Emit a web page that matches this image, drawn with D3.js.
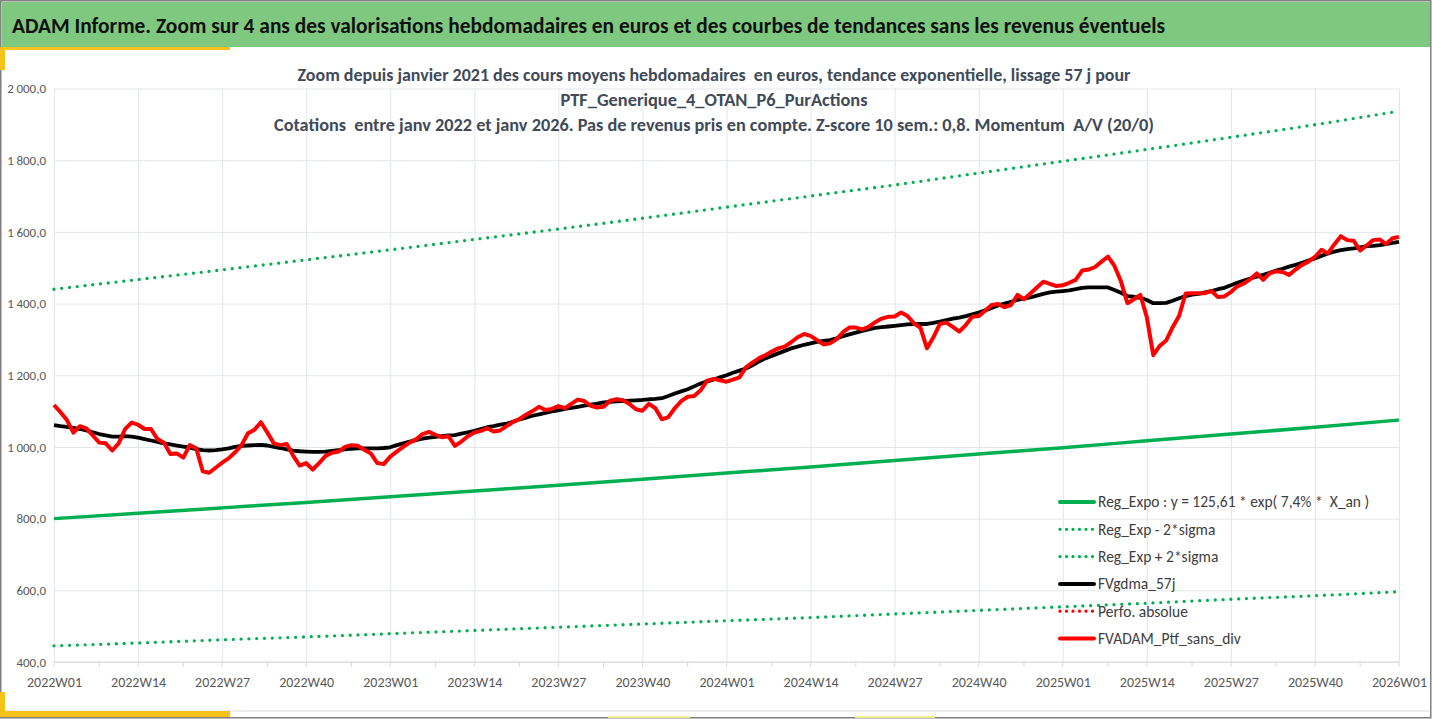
<!DOCTYPE html>
<html>
<head>
<meta charset="utf-8">
<script src="https://cdn.jsdelivr.net/npm/d3@7.9.0/dist/d3.min.js"></script>
<style>
  body { margin: 0; background: #fff; }
  svg { display: block; }
  text { font-family: Calibri, "Liberation Sans Narrow", "Noto Sans", sans-serif; white-space: pre; }
</style>
</head>
<body>
<div id="chart"></div>
<script>
// Data
const years = [2022, 2023, 2024, 2025];
const tickLabels = ['2022W01', '2022W14', '2022W27', '2022W40', '2023W01', '2023W14', '2023W27', '2023W40',
  '2024W01', '2024W14', '2024W27', '2024W40', '2025W01', '2025W14', '2025W27', '2025W40', '2026W01'];

// FVADAM_Ptf_sans_div (weekly, 2022W01 .. 2026W01)
const fvadam = [
  1117, 1097, 1075, 1040, 1058, 1052, 1032, 1012, 1010, 990, 1010, 1050, 1068, 1062, 1050, 1050,
  1022, 1012, 980, 982, 970, 1005, 996, 932, 928, 942, 956, 968, 985, 1005, 1038, 1048,
  1069, 1040, 1010, 1005, 1008, 975, 948, 955, 937, 955, 975, 984, 987, 1000, 1005, 1003,
  992, 982, 955, 952, 973, 987, 1000, 1012, 1021, 1036, 1042, 1034, 1027, 1030, 1003, 1015,
  1030, 1040, 1045, 1052, 1043, 1046, 1058, 1070, 1078, 1090, 1100, 1112, 1103, 1106, 1114, 1108,
  1120, 1132, 1128, 1115, 1110, 1112, 1129, 1133, 1130, 1120, 1105, 1101, 1120, 1108, 1077, 1083,
  1108, 1128, 1140, 1142, 1158, 1185, 1190, 1186, 1182, 1188, 1194, 1222, 1235, 1247, 1256, 1266,
  1275, 1280, 1292, 1306, 1315, 1310, 1298, 1286, 1289, 1300, 1320, 1333, 1333, 1328, 1335, 1348,
  1358, 1363, 1364, 1375, 1365, 1345, 1332, 1275, 1306, 1343, 1347, 1335, 1322, 1340, 1363, 1365,
  1380, 1396, 1399, 1390, 1396, 1424, 1412, 1428, 1445, 1461, 1455, 1449, 1451, 1458, 1466, 1492,
  1495, 1502, 1517, 1531, 1505, 1462, 1401, 1412, 1424, 1362, 1256, 1282, 1297, 1334, 1366, 1428,
  1429, 1429, 1429, 1435, 1418, 1420, 1432, 1448, 1456, 1468, 1484, 1466, 1484, 1490, 1488, 1480,
  1495, 1508, 1517, 1530, 1550, 1540, 1565, 1588, 1577, 1575, 1548, 1562, 1577, 1579, 1566, 1582,
  1586
];

// FVgdma_57j (weekly)
const fvgdma = [
  1061, 1058, 1056, 1053, 1050, 1046, 1041, 1036, 1032, 1029, 1029, 1030, 1029, 1026, 1022, 1018,
  1014, 1010, 1007, 1004, 1001, 998, 994, 991, 990, 991, 993, 996, 1000, 1003, 1004, 1005,
  1006, 1004, 1000, 997, 993, 990, 988, 987, 986, 986, 987, 989, 991, 993, 995, 996,
  996, 996, 996, 997, 999, 1005, 1010, 1015, 1019, 1023, 1026, 1028, 1030, 1032, 1033, 1037,
  1041, 1045, 1050, 1055, 1058, 1062, 1065, 1070, 1077, 1082, 1087, 1091, 1095, 1099, 1102, 1106,
  1109, 1112, 1115, 1118, 1121, 1124, 1126, 1127, 1128, 1129, 1130, 1131, 1133, 1134, 1136, 1142,
  1149, 1155, 1161, 1169, 1177, 1183, 1188, 1194, 1200, 1207, 1213, 1219, 1228, 1238, 1247, 1254,
  1261, 1268, 1275, 1280, 1285, 1289, 1293, 1296, 1298, 1303, 1309, 1314, 1319, 1324, 1328, 1332,
  1334, 1336, 1338, 1340, 1342, 1343, 1343, 1343, 1346, 1350, 1354, 1358, 1361, 1365, 1370, 1375,
  1381, 1388, 1395, 1400, 1405, 1410, 1414, 1417, 1422, 1427, 1431, 1433, 1435, 1437, 1440, 1444,
  1445, 1445, 1445, 1445, 1438, 1430, 1421, 1419, 1416, 1410, 1401, 1401, 1402, 1408, 1415, 1421,
  1425, 1427, 1431, 1435, 1440, 1444, 1451, 1458, 1464, 1470, 1475, 1480, 1486, 1492, 1497, 1503,
  1508, 1514, 1520, 1526, 1533, 1540, 1545, 1549, 1552, 1554, 1557, 1560, 1561, 1563, 1566, 1569,
  1572
];

// trend curves, read at each tick label
const regExpo = [800, 815, 830, 845, 861, 877, 893, 910, 927, 944, 962, 980, 998, 1017, 1036, 1055, 1075];
const regMinus = [445, 453, 462, 470, 479, 488, 497, 506, 515, 524, 534, 544, 554, 564, 575, 585, 596];
const regPlus = [1440, 1467, 1494, 1522, 1550, 1579, 1608, 1638, 1669, 1700, 1731, 1764, 1797, 1830, 1864, 1899, 1937];

const legendItems = [
  { label: 'Reg_Expo : y = 125,61 * exp( 7,4% *  X_an )', color: '#00b050', dotted: false },
  { label: 'Reg_Exp - 2*sigma', color: '#00b050', dotted: true },
  { label: 'Reg_Exp + 2*sigma', color: '#00b050', dotted: true },
  { label: 'FVgdma_57j', color: '#000000', dotted: false },
  { label: 'Perfo. absolue', color: '#ff0000', dotted: true },
  { label: 'FVADAM_Ptf_sans_div', color: '#ff0000', dotted: false }
];

const W = 1432, H = 719;
const plot = { left: 54, right: 1399, top: 88.5, bottom: 662 };

const weeks = years.flatMap(yr => d3.range(1, 53).map(w => `${yr}W${String(w).padStart(2, '0')}`)).concat(['2026W01']);

const svg = d3.select('#chart').append('svg').attr('width', W).attr('height', H);

// frame and decorations
svg.append('rect').attr('x', 0.75).attr('y', 0.75).attr('width', W - 2).attr('height', H - 2)
  .attr('fill', '#fff').attr('stroke', '#7f7f7f').attr('stroke-width', 1.5);
svg.append('rect').attr('x', 2).attr('y', 2).attr('width', 1428).attr('height', 45).attr('fill', '#7ec87f');
svg.append('line').attr('x1', 2).attr('x2', 1429).attr('y1', 711).attr('y2', 711).attr('stroke', '#dcdcdc');
svg.append('rect').attr('x', 0).attr('y', 47).attr('width', 230).attr('height', 3).attr('fill', '#f5c21b');
svg.append('rect').attr('x', 0).attr('y', 47).attr('width', 5).attr('height', 23).attr('fill', '#f5c21b');
svg.append('rect').attr('x', 0).attr('y', 711).attr('width', 230).attr('height', 6).attr('fill', '#f5c21b');
svg.append('rect').attr('x', 0).attr('y', 692).attr('width', 5).attr('height', 25).attr('fill', '#f5c21b');
svg.append('rect').attr('x', 608).attr('y', 716).attr('width', 82).attr('height', 2).attr('fill', '#f3ec8a');
svg.append('rect').attr('x', 855).attr('y', 716).attr('width', 80).attr('height', 2).attr('fill', '#f3ec8a');

svg.append('text').attr('x', 12).attr('y', 33)
  .attr('font-size', 23).attr('font-weight', 'bold').attr('fill', '#111')
  .attr('textLength', 1153).attr('lengthAdjust', 'spacingAndGlyphs')
  .text('ADAM Informe. Zoom sur 4 ans des valorisations hebdomadaires en euros et des courbes de tendances sans les revenus éventuels');

// scales
const x = d3.scalePoint().domain(weeks).range([plot.left, plot.right]);
const y = d3.scaleLinear().domain([400, 2000]).range([plot.bottom, plot.top]);
const fr = d3.formatLocale({ decimal: ',', thousands: '\u2009', grouping: [3], currency: ['', ' €'] });
const fmt = fr.format(',.1f');

// gridlines + axes
const gy = svg.append('g').attr('transform', `translate(${plot.left},0)`)
  .call(d3.axisLeft(y).tickValues(d3.range(400, 2001, 200)).tickSize(-(plot.right - plot.left)).tickPadding(8).tickFormat(fmt));
gy.select('.domain').remove();
gy.selectAll('line').attr('stroke', '#e2e6eb');
gy.selectAll('text').attr('fill', '#595959').attr('font-size', 13);

const gx = svg.append('g').attr('transform', `translate(0,${plot.bottom})`)
  .call(d3.axisBottom(x).tickValues(tickLabels).tickSize(-(plot.bottom - plot.top)).tickPadding(15));
gx.select('.domain').remove();
gx.selectAll('line').attr('stroke', '#e2e6eb');
gx.selectAll('text').attr('fill', '#595959').attr('font-size', 14);

// small tick marks below the axis
const minor = d3.range(0, 16).map(k => weeks[Math.round(k * 13 + 6.5)]);
svg.append('g').selectAll('line').data(tickLabels.concat(minor)).join('line')
  .attr('x1', d => x(d)).attr('x2', d => x(d)).attr('y1', plot.bottom).attr('y2', plot.bottom + 5)
  .attr('stroke', '#d9d9d9');
svg.append('line').attr('x1', plot.left).attr('x2', plot.right).attr('y1', plot.bottom).attr('y2', plot.bottom).attr('stroke', '#d9d9d9');

// chart title (over the plot)
const titleLines = [
  'Zoom depuis janvier 2021 des cours moyens hebdomadaires  en euros, tendance exponentielle, lissage 57 j pour',
  'PTF_Generique_4_OTAN_P6_PurActions',
  'Cotations  entre janv 2022 et janv 2026. Pas de revenus pris en compte. Z-score 10 sem.: 0,8. Momentum  A/V (20/0)'
];
const titleWidths = [833, 307, 880];
svg.append('g').selectAll('text').data(titleLines).join('text')
  .attr('x', 714).attr('y', (d, i) => 81 + i * 25)
  .attr('text-anchor', 'middle').attr('font-size', 17).attr('font-weight', 'bold').attr('fill', '#404a58')
  .attr('textLength', (d, i) => titleWidths[i]).attr('lengthAdjust', 'spacingAndGlyphs')
  .text(d => d);

// series
const trendLine = d3.line().x((d, i) => x(tickLabels[i])).y(d => y(d)).curve(d3.curveMonotoneX);
const weekLine = d3.line().x((d, i) => x(weeks[i])).y(d => y(d));

const dotStyle = sel => sel.attr('fill', 'none').attr('stroke-width', 3.3)
  .attr('stroke-linecap', 'round').attr('stroke-dasharray', '0 7.8');

svg.append('path').datum(regPlus).attr('d', trendLine).attr('stroke', '#00b050').call(dotStyle);
svg.append('path').datum(regMinus).attr('d', trendLine).attr('stroke', '#00b050').call(dotStyle);
svg.append('path').datum(regExpo).attr('d', trendLine).attr('fill', 'none')
  .attr('stroke', '#00b050').attr('stroke-width', 3.5);
svg.append('path').datum(fvgdma).attr('d', weekLine).attr('fill', 'none')
  .attr('stroke', '#000').attr('stroke-width', 3.8).attr('stroke-linejoin', 'round');
svg.append('path').datum(fvadam).attr('d', weekLine).attr('fill', 'none')
  .attr('stroke', '#ff0000').attr('stroke-width', 4).attr('stroke-linejoin', 'round');

// legend
const lg = svg.append('g').attr('transform', 'translate(1060,502)');
const rows = lg.selectAll('g').data(legendItems).join('g')
  .attr('transform', (d, i) => `translate(0,${i * 27.3})`);
rows.append('line').attr('x1', 0).attr('x2', 34).attr('y1', 0).attr('y2', 0)
  .attr('stroke', d => d.color)
  .each(function (d) {
    const l = d3.select(this);
    if (d.dotted) l.call(dotStyle).attr('stroke-dasharray', '0 6.5');
    else l.attr('stroke-width', 4).attr('stroke-linecap', 'round');
  });
rows.append('text').attr('x', 38).attr('y', 0).attr('dy', '0.35em')
  .attr('font-size', 15.5).attr('fill', '#404040').text(d => d.label);
</script>
</body>
</html>
